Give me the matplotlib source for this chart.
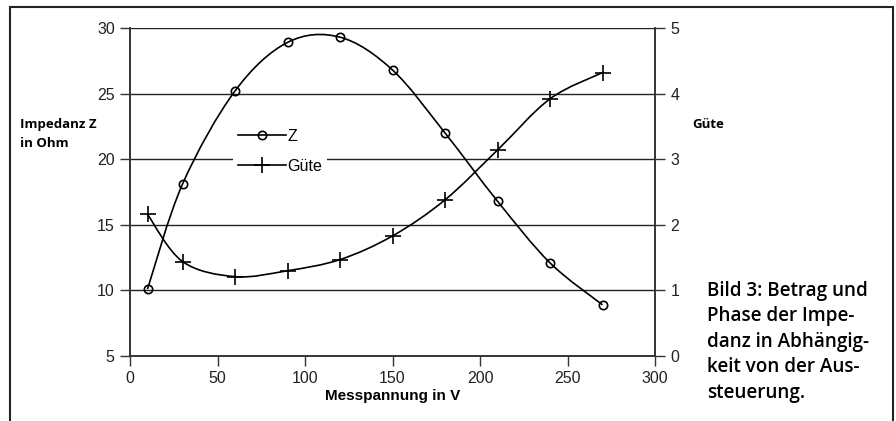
import numpy as np
import matplotlib.pyplot as plt
from matplotlib.path import Path
from matplotlib.patches import PathPatch, Rectangle
from matplotlib.lines import Line2D

spannung = [10, 30, 60, 90, 120, 150, 180, 210, 240, 270]
impedanz = [10.1, 18.1, 25.2, 28.9, 29.3, 26.8, 22.0, 16.8, 12.1, 8.9]
guete = [2.16, 1.44, 1.21, 1.30, 1.47, 1.83, 2.38, 3.14, 3.92, 4.32]

caption = "Bild 3: Betrag und\nPhase der Impe-\ndanz in Abhängig-\nkeit von der Aus-\nsteuerung."

plt.rcParams['font.family'] = ['Liberation Sans', 'DejaVu Sans']


def smooth_path(xs, ys):
    # Excel-style smoothed line: cubic Bezier segments through the points
    pts = np.column_stack([xs, ys]).astype(float)
    n = len(pts)
    verts = [pts[0]]
    codes = [Path.MOVETO]
    for i in range(n - 1):
        p0 = pts[i - 1] if i > 0 else pts[i]
        p1 = pts[i]
        p2 = pts[i + 1]
        p3 = pts[i + 2] if i + 2 < n else pts[i + 1]
        c1 = p1 + (p2 - p0) / 6.0
        c2 = p2 - (p3 - p1) / 6.0
        verts += [c1, c2, p2]
        codes += [Path.CURVE4] * 3
    return Path(verts, codes)


fig = plt.figure(figsize=(8.96, 4.21), dpi=100)
ax = fig.add_axes([130 / 896, 1 - 356 / 421, 525 / 896, 328 / 421])
ax2 = ax.twinx()

ax.set_xlim(0, 300)
ax.set_ylim(5, 30)
ax2.set_ylim(0, 5)
ax.set_xticks(np.arange(0, 301, 50))
ax.set_yticks(np.arange(5, 31, 5))
ax2.set_yticks(np.arange(0, 6, 1))

for y in [10, 15, 20, 25, 30]:
    ax.axhline(y, color='#222222', lw=1.0, zorder=1)

for a in (ax, ax2):
    for s in a.spines.values():
        s.set_color('#333333')
        s.set_linewidth(1.2)
    a.spines['top'].set_visible(False)
    a.tick_params(direction='out', length=7, width=1.0, color='#333333',
                  labelsize=11.5, labelcolor='#222222', pad=4)

ax.add_patch(PathPatch(smooth_path(spannung, impedanz), fill=False,
                       lw=1.2, color='black', zorder=3))
ax2.add_patch(PathPatch(smooth_path(spannung, guete), fill=False,
                        lw=1.2, color='black', zorder=3))
ax.plot(spannung, impedanz, ls='none', marker='o', ms=6, mfc='none',
        mec='black', mew=1.2, zorder=4)
ax2.plot(spannung, guete, ls='none', marker='+', ms=11, mec='black',
         mew=1.2, zorder=4)

ax.set_xlabel('Messpannung in V', fontsize=11, fontweight='bold', labelpad=2)

h1 = Line2D([], [], color='black', lw=1.2, marker='o', ms=6, mfc='none', mew=1.2)
h2 = Line2D([], [], color='black', lw=1.2, marker='+', ms=11, mew=1.2)
leg = ax2.legend([h1, h2], ['Z', 'Güte'], loc='upper left',
                 bbox_to_anchor=(233 / 896, 1 - 124 / 421),
                 bbox_transform=fig.transFigure, frameon=True, fontsize=11.5,
                 handlelength=3.0, handletextpad=0.1, borderpad=0.3,
                 labelspacing=0.95, borderaxespad=0)
leg.get_frame().set_edgecolor('none')
leg.get_frame().set_facecolor('white')
leg.get_frame().set_alpha(1)
leg.set_zorder(5)

sidefont = ['Open Sans', 'DejaVu Sans']
fig.text(20 / 896, 1 - 134 / 421, 'Impedanz Z\nin Ohm', fontsize=9.5,
         fontweight='bold', family=sidefont, va='center', ha='left',
         linespacing=1.55)
fig.text(692 / 896, 1 - 124 / 421, 'Güte', fontsize=9.5, fontweight='bold',
         family=sidefont, va='center', ha='left')
fig.text(707 / 896, 1 - 281 / 421, caption, fontsize=13.6, fontweight='semibold',
         family=sidefont, va='top', ha='left', linespacing=1.36)

fig.patches.append(Rectangle((10 / 896, -0.1), 883 / 896, 1.1 - 7 / 421,
                             transform=fig.transFigure, fill=False,
                             edgecolor='#222222', lw=1.5))

fig.savefig('out.png', dpi=100)
